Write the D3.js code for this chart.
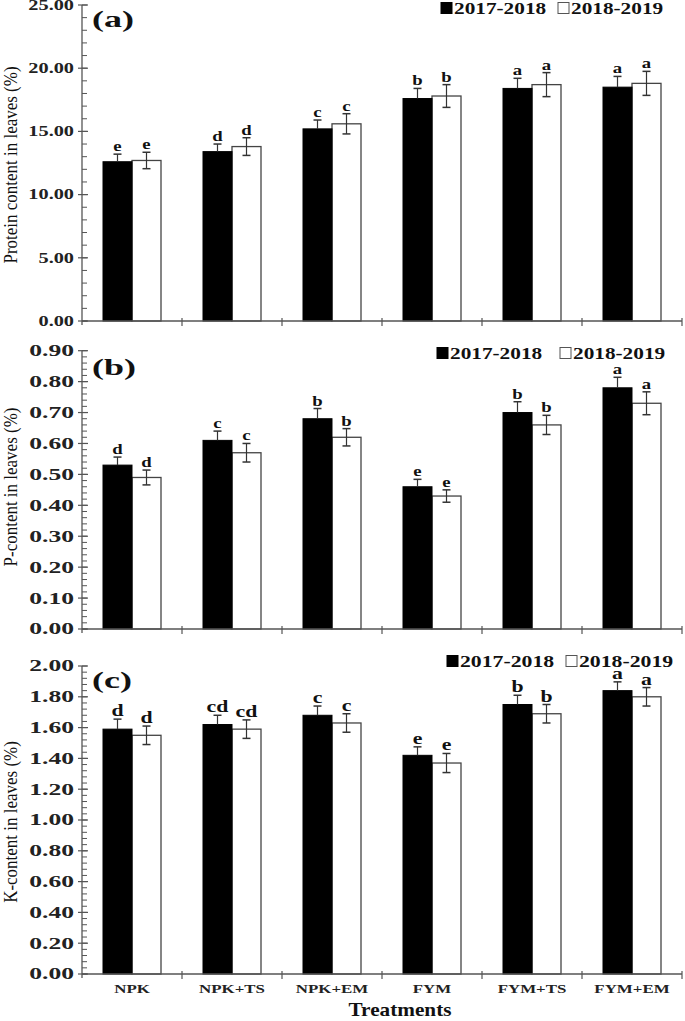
<!DOCTYPE html>
<html>
<head>
<meta charset="utf-8">
<script src="https://cdn.jsdelivr.net/npm/d3@7"></script>
<style>
  html, body { margin: 0; padding: 0; background: #fff; }
  svg { display: block; }
  text { font-family: "Liberation Serif", "Times New Roman", serif; }
</style>
</head>
<body>
<svg id="chart" width="685" height="1021"></svg>
<script>
// ---------------- DATA ----------------
const categories = ["NPK", "NPK+TS", "NPK+EM", "FYM", "FYM+TS", "FYM+EM"];
const seriesNames = ["2017-2018", "2018-2019"];

// (a) Protein content in leaves (%)
const protein2017 = [12.6, 13.4, 15.2, 17.6, 18.4, 18.5];
const protein2018 = [12.7, 13.8, 15.6, 17.8, 18.7, 18.8];
const proteinErr2017 = [0.6, 0.6, 0.7, 0.8, 0.8, 0.85];
const proteinErr2018 = [0.65, 0.7, 0.8, 0.9, 0.95, 0.95];
const proteinLetters2017 = ["e", "d", "c", "b", "a", "a"];
const proteinLetters2018 = ["e", "d", "c", "b", "a", "a"];
const proteinTicks = [0, 5, 10, 15, 20, 25];

// (b) P-content in leaves (%)
const p2017 = [0.53, 0.61, 0.68, 0.46, 0.70, 0.78];
const p2018 = [0.49, 0.57, 0.62, 0.43, 0.66, 0.73];
const pErr2017 = [0.026, 0.03, 0.033, 0.024, 0.035, 0.034];
const pErr2018 = [0.024, 0.03, 0.028, 0.02, 0.031, 0.037];
const pLetters2017 = ["d", "c", "b", "e", "b", "a"];
const pLetters2018 = ["d", "c", "b", "e", "b", "a"];
const pTicks = [0, 0.1, 0.2, 0.3, 0.4, 0.5, 0.6, 0.7, 0.8, 0.9];

// (c) K-content in leaves (%)
const k2017 = [1.59, 1.62, 1.68, 1.42, 1.75, 1.84];
const k2018 = [1.55, 1.59, 1.63, 1.37, 1.69, 1.80];
const kErr2017 = [0.065, 0.06, 0.06, 0.055, 0.06, 0.057];
const kErr2018 = [0.06, 0.06, 0.06, 0.062, 0.06, 0.06];
const kLetters2017 = ["d", "cd", "c", "e", "b", "a"];
const kLetters2018 = ["d", "cd", "c", "e", "b", "a"];
const kTicks = [0, 0.2, 0.4, 0.6, 0.8, 1.0, 1.2, 1.4, 1.6, 1.8, 2.0];

const panelTitles = ["(a)", "(b)", "(c)"];
const yTitles = ["Protein content in leaves (%)", "P-content in leaves (%)", "K-content in leaves (%)"];
const xTitle = "Treatments";

// ---------------- LAYOUT ----------------
const svg = d3.select("#chart");
const X0 = 82, X1 = 682;
const barW = 29;

const panels = [
  { top: 5, bottom: 321, max: 25, ticks: proteinTicks, minor: 1,
    s1: protein2017, s2: protein2018, e1: proteinErr2017, e2: proteinErr2018,
    l1: proteinLetters2017, l2: proteinLetters2018,
    tickFont: 14, tickScale: 1.45, letterFont: 15, letterScale: 1.25,
    titleY: 165, labelY: 27, legY: 14, legX: [441, 558], legFont: 16, legScale: 1.33 },
  { top: 350.7, bottom: 629, max: 0.9, ticks: pTicks, minor: 0.02,
    s1: p2017, s2: p2018, e1: pErr2017, e2: pErr2018,
    l1: pLetters2017, l2: pLetters2018,
    tickFont: 16, tickScale: 1.6, letterFont: 15, letterScale: 1.25,
    titleY: 487, labelY: 375, legY: 359, legX: [437, 560], legFont: 16, legScale: 1.33 },
  { top: 666, bottom: 974, max: 2.0, ticks: kTicks, minor: 0.04,
    s1: k2017, s2: k2018, e1: kErr2017, e2: kErr2018,
    l1: kLetters2017, l2: kLetters2018,
    tickFont: 16, tickScale: 1.6, letterFont: 17, letterScale: 1.28,
    titleY: 822, labelY: 688, legY: 667, legX: [447, 566], legFont: 17, legScale: 1.28 }
];

const x = d3.scaleBand().domain(categories).range([X0, X1]).paddingInner(0).paddingOuter(0);
const fmt = d3.format(".2f");
const axisColor = "#555";

panels.forEach((p, pi) => {
  const g = svg.append("g");
  const y = d3.scaleLinear().domain([0, p.max]).range([p.bottom, p.top]);

  // minor ticks
  const minorVals = d3.range(0, p.max + p.minor / 2, p.minor);
  g.selectAll(".minor").data(minorVals).join("line")
    .attr("x1", X0).attr("x2", X0 + 5)
    .attr("y1", d => y(d)).attr("y2", d => y(d))
    .attr("stroke", axisColor).attr("stroke-width", 1);

  // major ticks
  g.selectAll(".major").data(p.ticks).join("line")
    .attr("x1", X0 - 4).attr("x2", X0 + 6)
    .attr("y1", d => y(d)).attr("y2", d => y(d))
    .attr("stroke", axisColor).attr("stroke-width", 1.2);

  // tick labels
  g.selectAll(".tl").data(p.ticks).join("text")
    .attr("transform", d => `translate(${X0 - 8},${y(d) + p.tickFont * 0.34}) scale(${p.tickScale},1)`)
    .attr("text-anchor", "end")
    .attr("font-size", p.tickFont).attr("font-weight", "bold").attr("fill", "#222")
    .text(d => fmt(d));

  // bars
  const data = categories.map((c, i) => ({ c, i }));
  g.selectAll(".b2").data(data).join("rect")
    .attr("x", d => x(d.c) + x.bandwidth() / 2)
    .attr("width", barW)
    .attr("y", d => y(p.s2[d.i]))
    .attr("height", d => y(0) - y(p.s2[d.i]))
    .attr("fill", "#fff").attr("stroke", "#444").attr("stroke-width", 1.3);
  g.selectAll(".b1").data(data).join("rect")
    .attr("x", d => x(d.c) + x.bandwidth() / 2 - barW)
    .attr("width", barW)
    .attr("y", d => y(p.s1[d.i]))
    .attr("height", d => y(0) - y(p.s1[d.i]))
    .attr("fill", "#000").attr("stroke", "#000").attr("stroke-width", 1);

  // error bars (black bars: lower half hidden inside the bar)
  const errs = [];
  data.forEach(d => {
    errs.push({ cx: x(d.c) + x.bandwidth() / 2 - barW / 2, v: p.s1[d.i], e: p.e1[d.i], lab: p.l1[d.i], low: false });
    errs.push({ cx: x(d.c) + x.bandwidth() / 2 + barW / 2, v: p.s2[d.i], e: p.e2[d.i], lab: p.l2[d.i], low: true });
  });
  const eg = g.selectAll(".err").data(errs).join("g");
  eg.append("line")
    .attr("x1", d => d.cx).attr("x2", d => d.cx)
    .attr("y1", d => y(d.v + d.e)).attr("y2", d => d.low ? y(d.v - d.e) : y(d.v))
    .attr("stroke", "#333").attr("stroke-width", 1.2);
  eg.append("line")
    .attr("x1", d => d.cx - 4).attr("x2", d => d.cx + 4)
    .attr("y1", d => y(d.v + d.e)).attr("y2", d => y(d.v + d.e))
    .attr("stroke", "#333").attr("stroke-width", 1.5);
  eg.filter(d => d.low).append("line")
    .attr("x1", d => d.cx - 4).attr("x2", d => d.cx + 4)
    .attr("y1", d => y(d.v - d.e)).attr("y2", d => y(d.v - d.e))
    .attr("stroke", "#333").attr("stroke-width", 1.5);
  eg.append("text")
    .attr("transform", d => `translate(${d.cx},${y(d.v + d.e) - 3}) scale(${p.letterScale},1)`)
    .attr("text-anchor", "middle")
    .attr("font-size", p.letterFont).attr("font-weight", "bold").attr("fill", "#111")
    .text(d => d.lab);

  // axis lines
  g.append("line").attr("x1", X0).attr("x2", X0).attr("y1", p.top).attr("y2", p.bottom + 4)
    .attr("stroke", axisColor).attr("stroke-width", 1.3);
  g.append("line").attr("x1", X0).attr("x2", X1).attr("y1", p.bottom).attr("y2", p.bottom)
    .attr("stroke", axisColor).attr("stroke-width", 1.3);
  const bounds = categories.map(c => x(c) + x.bandwidth());
  g.selectAll(".ct").data(bounds).join("line")
    .attr("x1", d => d).attr("x2", d => d)
    .attr("y1", p.bottom - 3).attr("y2", p.bottom + 5)
    .attr("stroke", axisColor).attr("stroke-width", 1.2);

  // y axis title
  g.append("text")
    .attr("transform", `translate(17,${p.titleY}) scale(1.15,1) rotate(-90)`)
    .attr("text-anchor", "middle")
    .attr("font-size", 17).attr("fill", "#111")
    .text(yTitles[pi]);

  // panel label
  g.append("text")
    .attr("transform", `translate(92,${p.labelY}) scale(1.5,1)`)
    .attr("font-size", 24).attr("font-weight", "bold").attr("fill", "#111")
    .text(panelTitles[pi]);

  // legend
  const sq = 11;
  seriesNames.forEach((s, si) => {
    const lx = p.legX[si];
    g.append("rect")
      .attr("x", lx).attr("y", p.legY - 5.5 - sq / 2 - 0.5)
      .attr("width", sq).attr("height", sq)
      .attr("fill", si === 0 ? "#000" : "#fff")
      .attr("stroke", si === 0 ? "#000" : "#555").attr("stroke-width", 1);
    g.append("text")
      .attr("transform", `translate(${lx + sq + 2},${p.legY}) scale(${p.legScale},1)`)
      .attr("font-size", p.legFont).attr("font-weight", "bold").attr("fill", "#111")
      .text(s);
  });
});

// x category labels
svg.selectAll(".xl").data(categories).join("text")
  .attr("transform", d => `translate(${x(d) + x.bandwidth() / 2},993) scale(1.3,1)`)
  .attr("text-anchor", "middle")
  .attr("font-size", 13).attr("font-weight", "bold").attr("fill", "#222")
  .text(d => d);

svg.append("text")
  .attr("transform", `translate(400,1016) scale(1.18,1)`)
  .attr("text-anchor", "middle")
  .attr("font-size", 18).attr("font-weight", "bold").attr("fill", "#111")
  .text(xTitle);
</script>
</body>
</html>
